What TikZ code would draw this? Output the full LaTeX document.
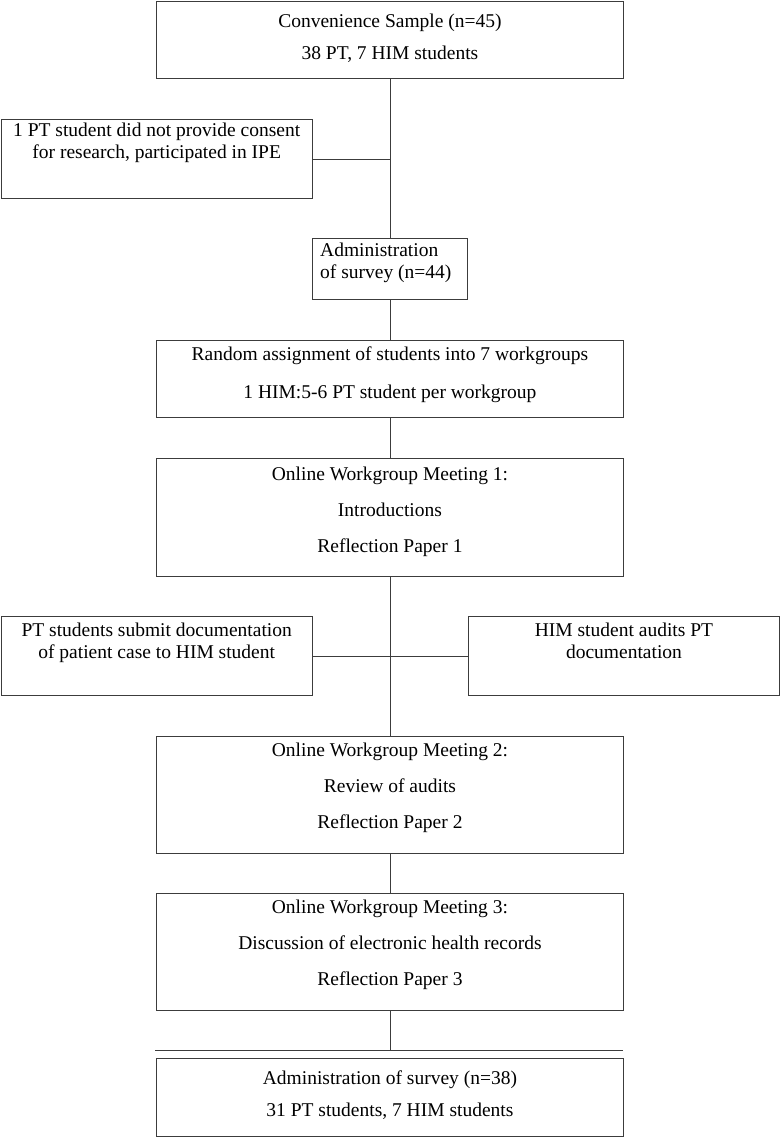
\documentclass[tikz,border=0pt]{standalone}
\usepackage{fontspec}
\setmainfont{Liberation Serif}
\usetikzlibrary{positioning}
\definecolor{linecol}{RGB}{60,60,60}
\tikzset{
  box/.style={draw=linecol, line width=0.9pt, rectangle, anchor=north west, inner sep=0pt},
  txt/.style={align=center, inner sep=0pt, font=\fontsize{19.5}{22}\selectfont},
  link/.style={draw=linecol, line width=0.9pt}
}

\begin{document}
\begin{tikzpicture}[x=1pt,y=-1pt]
    \useasboundingbox (0,0) rectangle (780,1138);

    % Boxes of the main column
    \node[box, minimum width=467pt, minimum height=77.5pt] (sample) at (156,0.5) {};
    \node[box, minimum width=155pt, minimum height=61pt] (survey) at (312,238) {};
    \node[box, minimum width=467pt, minimum height=77pt] (assign) at (156,340) {};
    \node[box, minimum width=467pt, minimum height=118pt] (meetone) at (156,458) {};
    \node[box, minimum width=467pt, minimum height=117pt] (meettwo) at (156,736) {};
    \node[box, minimum width=467pt, minimum height=117pt] (meetthree) at (156,893) {};
    \node[box, minimum width=467pt, minimum height=78pt] (final) at (156,1058) {};

    % Side boxes
    \node[box, minimum width=311.5pt, minimum height=79pt] (consent) at (0.5,119) {};
    \node[box, minimum width=311.5pt, minimum height=79pt] (submit) at (0.5,616) {};
    \node[box, minimum width=311pt, minimum height=79pt] (audit) at (468,616) {};

    % Box texts
    \node[txt, below=13pt of sample.north] (sampletxt)
        {Convenience Sample (n=45)\\[10pt] 38 PT, 7 HIM students};
    \node[txt, below=4pt of consent.north] (consenttxt)
        {1 PT student did not provide consent\\ for research, participated in IPE};
    \node[txt, align=left, below right=5pt and 8pt of survey.north west] (surveytxt)
        {Administration\\ of survey (n=44)};
    \node[txt, below=7pt of assign.north] (assigntxt)
        {Random assignment of students into 7 workgroups\\[16pt] 1 HIM:5-6 PT student per workgroup};
    \node[txt, below=9pt of meetone.north] (meetonetxt)
        {Online Workgroup Meeting 1:\\[14pt] Introductions\\[14pt] Reflection Paper 1};
    \node[txt, below=7pt of submit.north] (submittxt)
        {PT students submit documentation\\ of patient case to HIM student};
    \node[txt, below=7pt of audit.north] (audittxt)
        {HIM student audits PT\\ documentation};
    \node[txt, below=7pt of meettwo.north] (meettwotxt)
        {Online Workgroup Meeting 2:\\[14pt] Review of audits\\[14pt] Reflection Paper 2};
    \node[txt, below=7pt of meetthree.north] (meetthreetxt)
        {Online Workgroup Meeting 3:\\[14pt] Discussion of electronic health records\\[14pt] Reflection Paper 3};
    \node[txt, below=13pt of final.north] (finaltxt)
        {Administration of survey (n=38)\\[10pt] 31 PT students, 7 HIM students};

    % Line above the last box
    \coordinate (barL) at (155,1050);
    \coordinate (barR) at (623,1050);
    \draw[link] (barL) -- (barR);

    % Trunk
    \draw[link] (sample.south) -- (survey.north);
    \draw[link] (survey.south) -- (assign.north);
    \draw[link] (assign.south) -- (meetone.north);
    \draw[link] (meetone.south) -- (meettwo.north);
    \draw[link] (meettwo.south) -- (meetthree.north);
    \draw[link] (meetthree.south) -- (meetthree.south |- barL);

    % Branches
    \draw[link] (consent.east) -- (consent.east -| sample.south);
    \draw[link] (submit.east) -- (audit.west);

\end{tikzpicture}
\end{document}
